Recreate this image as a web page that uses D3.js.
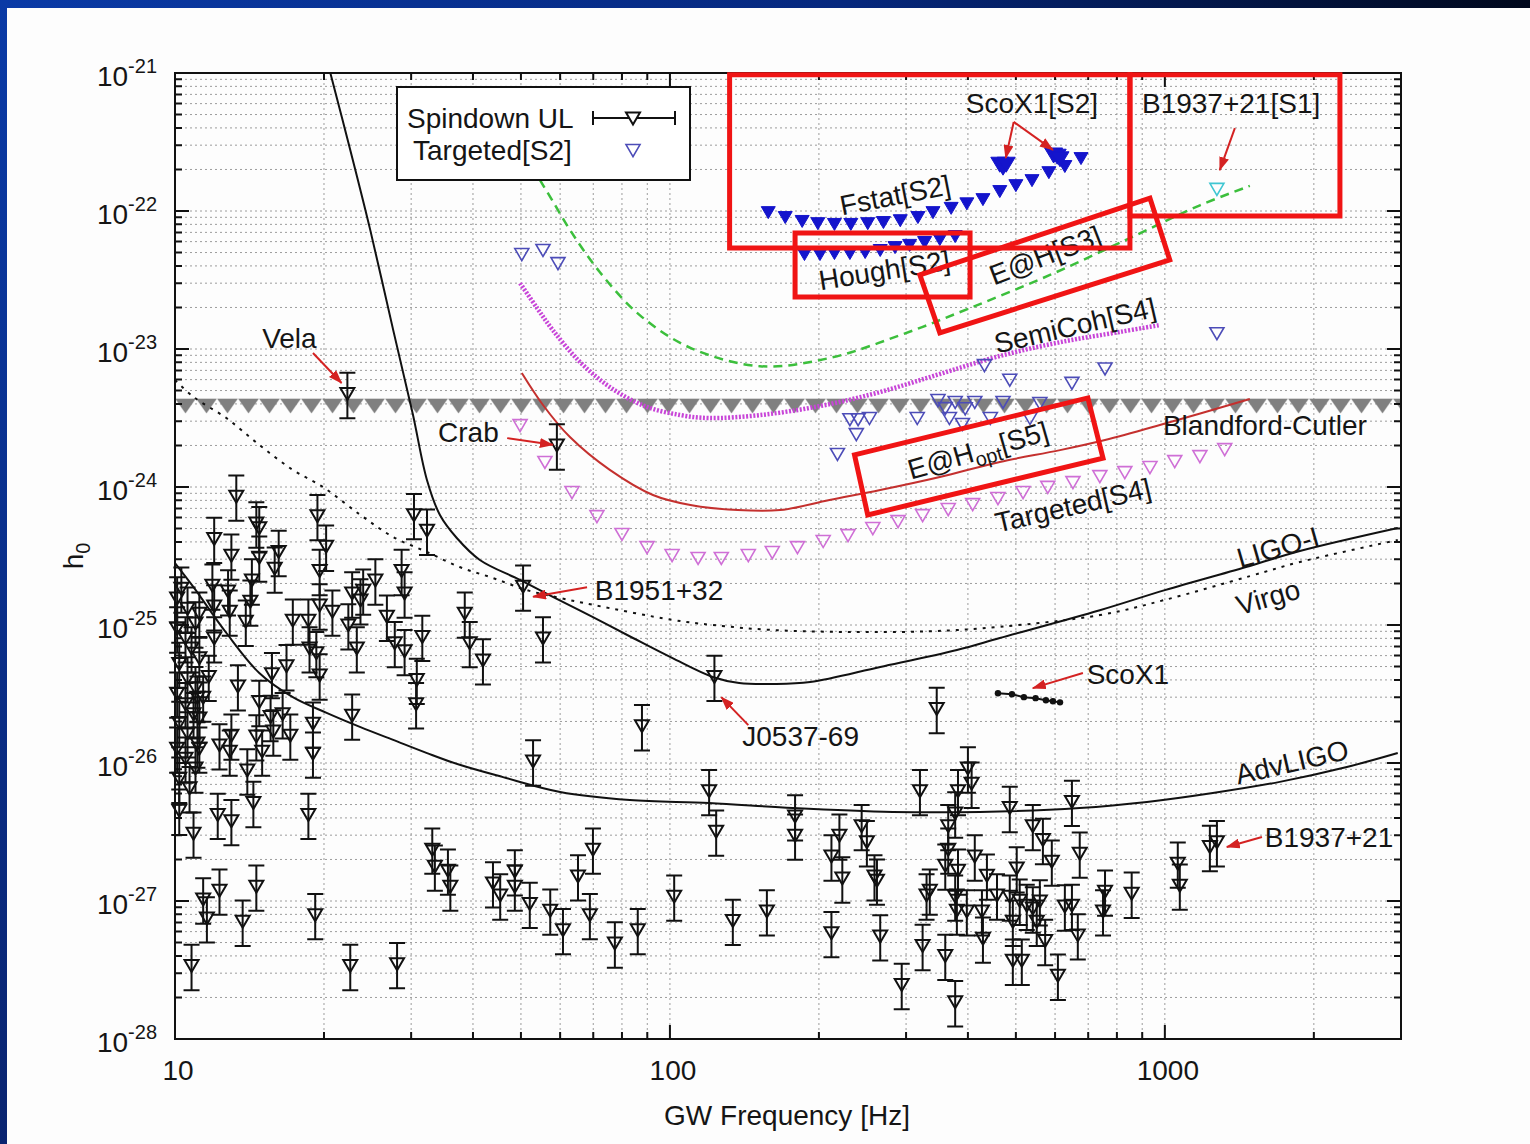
<!DOCTYPE html>
<html>
<head>
<meta charset="utf-8">
<script src="https://cdn.jsdelivr.net/npm/d3@7"></script>
<style>
  html, body { margin: 0; padding: 0; background: #fdfdfd; overflow: hidden; }
  svg { display: block; font-family: 'Liberation Sans', Arial, Helvetica, sans-serif; }
</style>
</head>
<body>
<div id="chart"></div>
<script>
// data: [frequency Hz, h0]
// -----------------------------------------------
const xTickValues = [10, 100, 1000];
const yTickExponents = [-21, -22, -23, -24, -25, -26, -27, -28];

// spindown upper limits of known pulsars (open triangles with error bars)
const spindownUL = [
  [10.1, 1.52e-25], [10.3, 1.79e-25], [10.6, 1.28e-25], [11.0, 1.0e-25], [11.2, 1.18e-25],
  [10.1, 9.2e-26], [10.5, 7.8e-26], [10.8, 6.6e-26], [11.2, 5.6e-26], [10.2, 5.1e-26],
  [10.6, 4.0e-26], [11.0, 3.4e-26], [10.1, 3.1e-26], [10.5, 2.6e-26], [10.9, 2.2e-26],
  [10.2, 1.9e-26], [10.6, 1.6e-26], [11.1, 1.35e-26], [10.1, 1.24e-26], [10.5, 1.05e-26],
  [11.0, 8.9e-27], [10.2, 7.5e-27], [10.7, 6.4e-27], [11.4, 2.9e-26], [11.2, 2.05e-26],
  [13.3, 8.3e-25], [14.6, 5.3e-25], [14.8, 4.9e-25], [12.0, 4.1e-25], [13.0, 3.1e-25],
  [14.8, 3.0e-25], [16.2, 3.3e-25], [15.9, 2.5e-25], [19.4, 6.0e-25], [20.2, 3.6e-25],
  [19.6, 2.4e-25], [30.4, 6.1e-25], [32.3, 4.7e-25], [28.7, 2.4e-25], [29.1, 1.65e-25],
  [25.4, 2.05e-25], [24.0, 1.73e-25], [22.8, 1.65e-25], [23.7, 1.47e-25], [11.9, 1.88e-25],
  [12.8, 1.71e-25], [12.9, 1.22e-25], [12.0, 1.33e-25], [14.3, 2.05e-25], [14.2, 1.44e-25],
  [13.9, 1.03e-25], [12.0, 7.8e-26], [19.6, 1.35e-25], [20.8, 1.22e-25], [17.3, 1.05e-25],
  [18.6, 1.05e-25], [22.4, 9.7e-26], [23.3, 6.6e-26], [26.8, 1.12e-25], [27.8, 7.2e-26],
  [29.1, 6.3e-26], [31.6, 8.0e-26], [30.8, 3.9e-26], [30.7, 2.6e-26], [18.7, 6.6e-26],
  [19.3, 6.1e-26], [19.6, 4.2e-26], [22.8, 2.15e-26], [19.0, 1.88e-26], [19.0, 1.14e-26],
  [16.8, 4.9e-26], [13.4, 3.5e-26], [11.7, 4.1e-26], [15.7, 4.3e-26], [14.8, 2.7e-26],
  [15.6, 2.1e-26], [14.6, 1.52e-26], [15.0, 1.18e-26], [16.5, 2.2e-26], [17.1, 1.54e-26],
  [15.8, 1.65e-26], [13.0, 1.54e-26], [12.9, 1.18e-26], [12.3, 1.31e-26], [14.0, 8.6e-27],
  [11.2, 1.24e-26], [11.1, 2.9e-26],
  [10.2, 4.4e-27], [10.9, 3.0e-27], [12.2, 4.1e-27], [13.0, 3.7e-27], [14.4, 5.0e-27],
  [18.6, 4.1e-27], [11.4, 1.0e-27], [11.6, 7.3e-28], [12.3, 1.16e-27], [13.7, 6.9e-28],
  [14.6, 1.24e-27], [19.2, 7.7e-28], [10.8, 3.3e-28], [22.6, 3.3e-28], [28.1, 3.4e-28],
  [33.1, 2.3e-27], [33.5, 1.73e-27], [35.6, 1.62e-27], [36.0, 1.24e-27],
  [22.3, 4.6e-24], [59.1, 1.95e-24], [50.5, 1.85e-25], [123, 4.1e-26],
  [38.5, 1.18e-25], [39.4, 7.2e-26], [41.9, 5.4e-26], [55.4, 7.8e-26], [87.8, 1.8e-26],
  [52.9, 1.0e-26], [43.9, 1.31e-27], [45.4, 1.07e-27], [48.6, 1.6e-27], [48.6, 1.24e-27],
  [52.1, 9.3e-28], [57.3, 8.3e-28], [120, 6.1e-27], [124, 3.1e-27], [69.9, 2.3e-27],
  [65.2, 1.47e-27], [68.9, 7.7e-28], [60.8, 6.0e-28], [77.4, 4.8e-28], [86.1, 6.0e-28],
  [102, 1.05e-27], [134, 7.0e-28], [157, 8.2e-28],
  [179, 4.0e-27], [179, 2.9e-27], [212, 2.05e-27], [220, 2.9e-27], [223, 1.42e-27],
  [244, 3.4e-27], [250, 2.6e-27], [259, 1.47e-27], [262, 1.37e-27], [212, 5.7e-28],
  [266, 5.4e-28], [294, 2.4e-28], [324, 4.6e-28], [360, 3.9e-28],
  [330, 1.07e-27], [335, 1.16e-27], [377, 1.8e-28], [346, 2.4e-26], [320, 6.1e-27],
  [400, 8.9e-27], [407, 6.9e-27], [382, 6.1e-27], [486, 4.6e-27], [649, 5.1e-27],
  [365, 3.4e-27], [377, 4.2e-27], [541, 3.4e-27], [567, 2.7e-27], [591, 1.88e-27],
  [673, 2.15e-27], [365, 2.3e-27], [360, 1.76e-27], [382, 1.62e-27], [413, 2.05e-27],
  [437, 1.49e-27], [502, 1.68e-27], [377, 1.05e-27], [380, 8.3e-28], [398, 8.2e-28],
  [427, 8.2e-28], [429, 5.2e-28], [458, 1.07e-27], [486, 1.05e-27], [493, 6.9e-28],
  [509, 9.8e-28], [526, 9.0e-28], [541, 8.6e-28], [559, 9.7e-28], [551, 6.9e-28],
  [573, 5.0e-28], [628, 8.9e-28], [649, 9.0e-28], [667, 5.5e-28], [757, 1.14e-27],
  [750, 8.2e-28], [857, 1.1e-27], [1062, 1.82e-27], [1072, 1.26e-27], [1233, 2.4e-27],
  [1274, 2.6e-27], [493, 3.6e-28], [514, 3.6e-28], [608, 2.8e-28]
];
const ulSpread = 1.46; // multiplicative half height of the error bars

const scoX1 = [[460, 3.2e-26], [491, 3.15e-26], [519, 3.0e-26], [548, 2.95e-26], [575, 2.85e-26], [594, 2.8e-26], [614, 2.75e-26]];

const targetedS2 = [
  [50.2, 4.72e-23], [55.4, 5.05e-23], [59.4, 4.06e-23], [432, 7.4e-24], [486, 5.8e-24],
  [649, 5.5e-24], [757, 7.0e-24], [1274, 1.26e-23], [218, 1.68e-24], [238, 2.34e-24],
  [240, 3.0e-24], [231, 3.0e-24], [348, 4.13e-24], [360, 3.61e-24], [377, 4.0e-24],
  [395, 3.6e-24], [413, 4.0e-24], [367, 3.06e-24], [390, 2.77e-24], [471, 4.0e-24],
  [559, 3.93e-24], [534, 3.06e-24], [253, 3.06e-24], [316, 3.06e-24], [444, 3.06e-24]
];

const targetedS4 = [
  [49.8, 2.72e-24], [55.9, 1.47e-24], [63.4, 8.9e-25], [71.2, 5.96e-25], [80.0, 4.42e-25],
  [89.9, 3.55e-25], [101, 3.11e-25], [114, 2.96e-25], [127, 2.96e-25], [144, 3.11e-25],
  [161, 3.27e-25], [181, 3.55e-25], [204, 3.93e-25], [229, 4.34e-25], [257, 4.88e-25],
  [289, 5.48e-25], [324, 6.06e-25], [365, 6.7e-25], [409, 7.28e-25], [460, 8.05e-25],
  [517, 8.9e-25], [580, 9.7e-25], [652, 1.05e-24], [739, 1.16e-24], [830, 1.24e-24],
  [933, 1.35e-24], [1047, 1.49e-24], [1177, 1.62e-24], [1321, 1.82e-24]
];

const fstatS2 = [
  [158, 9.5e-23], [171, 8.75e-23], [185, 8.2e-23], [199, 7.9e-23], [215, 7.8e-23],
  [232, 7.8e-23], [251, 7.9e-23], [270, 8.05e-23], [292, 8.3e-23], [317, 8.75e-23],
  [340, 9.5e-23], [370, 1.02e-22], [398, 1.1e-22], [429, 1.18e-22], [464, 1.35e-22],
  [500, 1.49e-22], [539, 1.62e-22], [583, 1.85e-22], [628, 2.05e-22], [677, 2.34e-22]
];

const houghS2 = [
  [187, 4.72e-23], [201, 4.72e-23], [215, 4.8e-23], [231, 4.8e-23], [248, 4.88e-23],
  [266, 5.05e-23], [285, 5.3e-23], [305, 5.5e-23], [327, 5.77e-23], [351, 6.06e-23], [377, 6.37e-23]
];

const scoX1S2 = [[464, 2.1e-22], [471, 2.0e-22], [478, 2.1e-22], [596, 2.45e-22], [606, 2.4e-22], [614, 2.3e-22]];
const b1937S1 = [[1274, 1.4e-22]];

const bcLevel = 3.9e-24; // Blandford-Cutler
const bcRange = [10, 3000];

const ligoI = [
  [20.6, 1.0e-21], [22.6, 2.77e-22], [24.8, 7.3e-23], [27.6, 1.37e-23], [30.2, 3.44e-24],
  [32.3, 1.12e-24], [34.3, 6.27e-25], [37.1, 4.27e-25], [41.3, 2.96e-25], [49.8, 2.12e-25],
  [58.0, 1.6e-25], [69.9, 1.14e-25], [84.2, 8.05e-26], [101, 5.77e-26], [122, 4.2e-26],
  [138, 3.8e-26], [161, 3.74e-26], [192, 3.86e-26], [266, 4.96e-26], [380, 6.59e-26],
  [464, 8.05e-26], [739, 1.28e-25], [1000, 1.79e-25], [1485, 2.68e-25], [1874, 3.44e-25], [2955, 5.05e-25]
];

const virgo = [
  [10, 5.96e-24], [10.9, 4.49e-24], [12.7, 3.16e-24], [14.8, 2.02e-24], [17.3, 1.33e-24],
  [19.9, 1.0e-24], [23.7, 6.27e-25], [27.6, 4.34e-25], [32.3, 3.38e-25], [37.6, 2.63e-25],
  [43.9, 2.19e-25], [51.4, 1.79e-25], [60.0, 1.57e-25], [69.9, 1.4e-25], [101, 1.09e-25],
  [122, 1.0e-25], [161, 9.2e-26], [231, 8.9e-26], [335, 9.0e-26], [464, 9.7e-26],
  [739, 1.18e-25], [1000, 1.52e-25], [1485, 2.26e-25], [1874, 2.86e-25], [2955, 4.13e-25]
];

const advLigo = [
  [10, 2.81e-25], [10.9, 1.88e-25], [12.7, 8.75e-26], [14.8, 4.49e-26], [17.3, 3.0e-26],
  [20.3, 2.3e-26], [23.7, 1.82e-26], [27.6, 1.47e-26], [32.3, 1.18e-26], [37.6, 9.7e-27],
  [46.0, 7.9e-27], [60.0, 6.17e-27], [83.0, 5.39e-27], [120, 5.13e-27], [177, 4.72e-27],
  [282, 4.42e-27], [423, 4.42e-27], [673, 4.72e-27], [920, 5.22e-27], [1250, 6.06e-27],
  [1707, 7.3e-27], [2332, 9.35e-27], [2955, 1.18e-26]
];

const eahS3 = [
  [54.6, 1.68e-22], [57.8, 1.2e-22], [62.8, 7.3e-23], [72.2, 3.6e-23], [86.9, 1.76e-23],
  [110, 1.02e-23], [152, 7.5e-24], [210, 8.6e-24], [292, 1.26e-23], [404, 1.98e-23],
  [586, 3.44e-23], [850, 6.37e-23], [1177, 1.1e-22], [1485, 1.52e-22]
];

const semiCohS4 = [
  [49.8, 3.0e-23], [53.9, 1.98e-23], [58.0, 1.37e-23], [65.8, 8.05e-24], [75.6, 5.3e-24],
  [88.9, 3.86e-24], [105, 3.32e-24], [120, 3.16e-24], [152, 3.32e-24], [201, 3.86e-24],
  [266, 4.88e-24], [351, 6.59e-24], [464, 8.9e-24], [614, 1.12e-23], [811, 1.33e-23], [977, 1.49e-23]
];

const eahOptS5 = [
  [50.2, 6.7e-24], [55.4, 3.93e-24], [62.8, 2.3e-24], [75.6, 1.33e-24], [92.4, 8.75e-25],
  [110, 7.4e-25], [137, 6.8e-25], [167, 6.8e-25], [210, 8.05e-25], [266, 9.5e-25],
  [351, 1.18e-24], [464, 1.52e-24], [614, 1.85e-24], [757, 2.19e-24], [977, 2.81e-24], [1485, 4.34e-24]
];

// -----------------------------------------------
let width = 1530,
  height = 1144;
let margin = { top: 73, right: 129, bottom: 105, left: 175 };

const x = d3.scaleLog().domain([10, 3000]).range([margin.left, width - margin.right]);
const y = d3.scaleLog().domain([1e-28, 1e-21]).range([height - margin.bottom, margin.top]);

const svg = d3
  .select('#chart')
  .append('svg')
  .attr('width', width)
  .attr('height', height)
  .attr('viewBox', [0, 0, width, height]);

const defs = svg.append('defs');

// slide background: white page with the blue template strips
const band = defs.append('linearGradient').attr('id', 'band');
band.append('stop').attr('offset', '0%').attr('stop-color', '#0a3aa6');
band.append('stop').attr('offset', '55%').attr('stop-color', '#06287e');
band.append('stop').attr('offset', '100%').attr('stop-color', '#00081c');
const side = defs.append('linearGradient').attr('id', 'side').attr('x2', 0).attr('y2', 1);
side.append('stop').attr('offset', '0%').attr('stop-color', '#0a3aa6');
side.append('stop').attr('offset', '100%').attr('stop-color', '#0a2470');

svg.append('rect').attr('width', width).attr('height', height).attr('fill', '#fdfdfd');
svg.append('rect').attr('width', width).attr('height', 8).attr('fill', 'url(#band)');
svg.append('rect').attr('width', 7).attr('height', height).attr('fill', 'url(#side)');

defs.append('clipPath').attr('id', 'plotClip')
  .append('rect')
  .attr('x', x.range()[0]).attr('y', y.range()[1])
  .attr('width', x.range()[1] - x.range()[0])
  .attr('height', y.range()[0] - y.range()[1]);

defs.append('marker')
  .attr('id', 'arrowHead')
  .attr('markerUnits', 'userSpaceOnUse')
  .attr('viewBox', '0 0 14 10')
  .attr('refX', 13).attr('refY', 5)
  .attr('markerWidth', 14).attr('markerHeight', 10)
  .attr('orient', 'auto')
  .append('path').attr('d', 'M0,0L14,5L0,10Z').attr('fill', '#d42222');

const isMajor = (v) => Math.abs(Math.log10(v) - Math.round(Math.log10(v))) < 1e-6;

// -----------------------------------------------
// grid (major and minor, dotted)
const xt = x.ticks().filter((v) => v > 10.01 && v < 2999);
const yt = y.ticks().filter((v) => v > 1.01e-28 && v < 0.99e-21);

const grid = svg.append('g').attr('stroke', '#9c9c9c').attr('stroke-width', 1).attr('stroke-dasharray', '2,3');
grid.selectAll('.gx').data(xt).join('line').attr('class', 'gx')
  .attr('x1', (d) => x(d)).attr('x2', (d) => x(d))
  .attr('y1', y.range()[1]).attr('y2', y.range()[0]);
grid.selectAll('.gy').data(yt).join('line').attr('class', 'gy')
  .attr('y1', (d) => y(d)).attr('y2', (d) => y(d))
  .attr('x1', x.range()[0]).attr('x2', x.range()[1]);

// -----------------------------------------------
const plot = svg.append('g').attr('clip-path', 'url(#plotClip)');

// Blandford-Cutler row of grey triangles
defs.append('pattern')
  .attr('id', 'bcTri')
  .attr('patternUnits', 'userSpaceOnUse')
  .attr('x', x(bcRange[0])).attr('y', y(bcLevel) - 7)
  .attr('width', 21).attr('height', 16)
  .append('path').attr('d', 'M0,0H21L10.5,15Z').attr('fill', '#808080');
plot.append('rect')
  .attr('x', x(bcRange[0])).attr('y', y(bcLevel) - 7)
  .attr('width', x(bcRange[1]) - x(bcRange[0])).attr('height', 15)
  .attr('fill', 'url(#bcTri)');

let curve = d3.line().x((d) => x(d[0])).y((d) => y(d[1])).curve(d3.curveCatmullRom.alpha(0.5));

let drawCurve = (data, color, w, dash) =>
  plot.append('path').datum(data)
    .attr('d', curve)
    .attr('fill', 'none')
    .attr('stroke', color)
    .attr('stroke-width', w)
    .attr('stroke-dasharray', dash);

drawCurve(virgo, '#111', 2, '3,6');
drawCurve(ligoI, '#111', 2, null);
drawCurve(advLigo, '#111', 2, null);
drawCurve(eahS3, '#3cbf3c', 2.5, '9,6');
drawCurve(semiCohS4, '#c845d8', 4.5, '2,1.6');
drawCurve(eahOptS5, '#c4302e', 2, null);

// -----------------------------------------------
let triDown = (w, h) => `M${-w / 2},${-h * 0.62}L${w / 2},${-h * 0.62}L0,${h * 0.38}Z`;

let markers = (data, w, h, stroke, fill, sw) =>
  svg.append('g')
    .selectAll('path').data(data).join('path')
    .attr('transform', (d) => `translate(${x(d[0])},${y(d[1])})`)
    .attr('d', triDown(w, h))
    .attr('fill', fill)
    .attr('stroke', stroke)
    .attr('stroke-width', sw);

markers(targetedS4, 14, 12, '#cf6fd6', 'none', 1.6);
markers(targetedS2, 14, 12, '#4c4cb8', 'none', 1.6);
markers(fstatS2, 14, 12, '#1414cc', '#1414cc', 1);
markers(houghS2, 14, 12, '#1414cc', '#1414cc', 1);
markers(scoX1S2, 18, 15, '#1414cc', '#1414cc', 1);
markers(b1937S1, 14, 12, '#3fc6d2', 'none', 1.6);

// spindown upper limits with error bars
const ul = svg.append('g').attr('stroke', '#111').attr('stroke-width', 2).attr('fill', 'none');
ul.selectAll('g').data(spindownUL).join('g').each(function ([f, h]) {
  const g = d3.select(this),
    cx = x(f),
    top = y(h * ulSpread),
    bot = y(h / ulSpread);
  g.append('path').attr('d', `M${cx},${top}V${bot}M${cx - 8},${top}H${cx + 8}M${cx - 8},${bot}H${cx + 8}`);
  g.append('path').attr('transform', `translate(${cx},${y(h)})`).attr('d', triDown(14, 12));
});

// ScoX1 track
svg.append('path').datum(scoX1)
  .attr('d', d3.line().x((d) => x(d[0])).y((d) => y(d[1])))
  .attr('fill', 'none').attr('stroke', '#111').attr('stroke-width', 2);
svg.append('g').selectAll('circle').data(scoX1).join('circle')
  .attr('cx', (d) => x(d[0])).attr('cy', (d) => y(d[1])).attr('r', 3.2).attr('fill', '#111');

// -----------------------------------------------
// frame and ticks on all four sides
const axes = svg.append('g').attr('stroke', '#111').attr('stroke-width', 2);
axes.append('rect')
  .attr('x', x.range()[0]).attr('y', y.range()[1])
  .attr('width', x.range()[1] - x.range()[0])
  .attr('height', y.range()[0] - y.range()[1])
  .attr('fill', 'none');
axes.selectAll('.tx').data(xt).join('path').attr('class', 'tx')
  .attr('d', (d) => {
    const l = isMajor(d) ? 14 : 7;
    return `M${x(d)},${y.range()[0]}v${-l}M${x(d)},${y.range()[1]}v${l}`;
  });
axes.selectAll('.ty').data(yt).join('path').attr('class', 'ty')
  .attr('d', (d) => {
    const l = isMajor(d) ? 14 : 7;
    return `M${x.range()[0]},${y(d)}h${l}M${x.range()[1]},${y(d)}h${-l}`;
  });

const txt = svg.append('g').attr('fill', '#151515').attr('font-size', 28);

txt.selectAll('.xl').data(xTickValues).join('text').attr('class', 'xl')
  .attr('x', (d) => x(d) + 3).attr('y', y.range()[0] + 41)
  .attr('text-anchor', 'middle')
  .text((d) => d);

const yl = txt.selectAll('.yl').data(yTickExponents).join('text').attr('class', 'yl')
  .attr('x', 157).attr('y', (d) => y(Math.pow(10, d)) + 13)
  .attr('text-anchor', 'end');
yl.append('tspan').text('10');
yl.append('tspan').attr('font-size', 20).attr('dy', -13).text((d) => d);

txt.append('text').attr('x', 787).attr('y', 1125).attr('text-anchor', 'middle').text('GW Frequency [Hz]');
const hl = txt.append('text').attr('transform', 'translate(83,556) rotate(-90)').attr('text-anchor', 'middle');
hl.append('tspan').text('h');
hl.append('tspan').attr('font-size', 20).attr('dy', 7).text('0');

// -----------------------------------------------
// annotations (placed in data coordinates)
const plainNotes = [
  ['Vela', 15.0, 1.02e-23], ['Crab', 34.0, 2.12e-24], ['B1951+32', 70.5, 1.52e-25],
  ['J0537-69', 140, 1.33e-26], ['ScoX1', 695, 3.74e-26], ['B1937+21', 1592, 2.46e-27],
  ['Blandford-Cutler', 991, 2.38e-24], ['ScoX1[S2]', 396, 5.13e-22], ['B1937+21[S1]', 899, 5.13e-22]
];
txt.selectAll('.pn').data(plainNotes).join('text').attr('class', 'pn')
  .attr('x', (d) => x(d[1])).attr('y', (d) => y(d[2]))
  .text((d) => d[0]);

const tiltNotes = [
  ['Fstat[S2]', 285, 1.31e-22, -11], ['Hough[S2]', 271, 3.74e-23, -9], ['E@H[S3]', 573, 4.8e-23, -21],
  ['SemiCoh[S4]', 658, 1.49e-23, -13], ['Targeted[S4]', 652, 7.4e-25, -13],
  ['LIGO-I', 1691, 3.67e-25, -16], ['Virgo', 1615, 1.6e-25, -16], ['AdvLIGO', 1806, 1.02e-26, -13]
];
txt.selectAll('.tn').data(tiltNotes).join('text').attr('class', 'tn')
  .attr('transform', (d) => `translate(${x(d[1])},${y(d[2])}) rotate(${d[3]})`)
  .attr('text-anchor', 'middle').attr('dy', '0.36em')
  .text((d) => d[0]);

const opt = txt.append('text')
  .attr('transform', `translate(${x(419)},${y(1.85e-24)}) rotate(-16)`)
  .attr('text-anchor', 'middle').attr('dy', '0.36em');
opt.append('tspan').text('E@H');
opt.append('tspan').attr('font-size', 20).attr('dy', 6).text('opt');
opt.append('tspan').attr('dy', -6).text('[S5]');

const arrows = [
  [[19.0, 9.35e-24], [21.7, 5.67e-24]], [[46.9, 2.26e-24], [58.0, 2.02e-24]],
  [[68.0, 1.88e-25], [52.9, 1.6e-25]], [[144, 1.88e-26], [127, 3.0e-26]],
  [[683, 4.49e-26], [541, 3.49e-26]], [[1571, 2.91e-27], [1334, 2.46e-27]],
  [[495, 4.42e-22], [477, 2.42e-22]], [[495, 4.42e-22], [594, 2.77e-22]],
  [[1385, 3.99e-22], [1291, 1.98e-22]]
];
svg.append('g').selectAll('line').data(arrows).join('line')
  .attr('x1', (d) => x(d[0][0])).attr('y1', (d) => y(d[0][1]))
  .attr('x2', (d) => x(d[1][0])).attr('y2', (d) => y(d[1][1]))
  .attr('stroke', '#d42222').attr('stroke-width', 2)
  .attr('marker-end', 'url(#arrowHead)');

// -----------------------------------------------
// legend
const legend = svg.append('g');
legend.append('rect').attr('x', 397).attr('y', 87).attr('width', 293).attr('height', 93)
  .attr('fill', '#fff').attr('stroke', '#111').attr('stroke-width', 2);
legend.append('text').attr('x', 407).attr('y', 128).attr('font-size', 28).attr('fill', '#151515').text('Spindown UL');
legend.append('text').attr('x', 413).attr('y', 160).attr('font-size', 28).attr('fill', '#151515').text('Targeted[S2]');
legend.append('path').attr('d', 'M593,118H675M593,111V125M675,111V125')
  .attr('stroke', '#111').attr('stroke-width', 2).attr('fill', 'none');
legend.append('path').attr('transform', 'translate(633,120)').attr('d', triDown(14, 12))
  .attr('stroke', '#111').attr('stroke-width', 2).attr('fill', '#fff');
legend.append('path').attr('transform', 'translate(633,152)').attr('d', triDown(14, 12))
  .attr('stroke', '#4c4cb8').attr('stroke-width', 1.6).attr('fill', 'none');

// -----------------------------------------------
// red highlight boxes drawn over the figure
const boxes = [
  [[132, 9.7e-22], [850, 9.7e-22], [850, 5.39e-23], [132, 5.39e-23]],
  [[850, 9.7e-22], [2258, 9.7e-22], [2258, 9.2e-23], [850, 9.2e-23]],
  [[179, 6.93e-23], [404, 6.93e-23], [404, 2.38e-23], [179, 2.38e-23]],
  [[320, 3.44e-23], [933, 1.24e-22], [1023, 4.42e-23], [351, 1.31e-23]],
  [[236, 1.71e-24], [699, 4.42e-24], [750, 1.62e-24], [251, 6.27e-25]]
];
svg.append('g').selectAll('polygon').data(boxes).join('polygon')
  .attr('points', (d) => d.map((p) => [x(p[0]), y(p[1])].join(',')).join(' '))
  .attr('fill', 'none').attr('stroke', '#f01414').attr('stroke-width', 5)
  .attr('stroke-linejoin', 'miter');
</script>
</body>
</html>
